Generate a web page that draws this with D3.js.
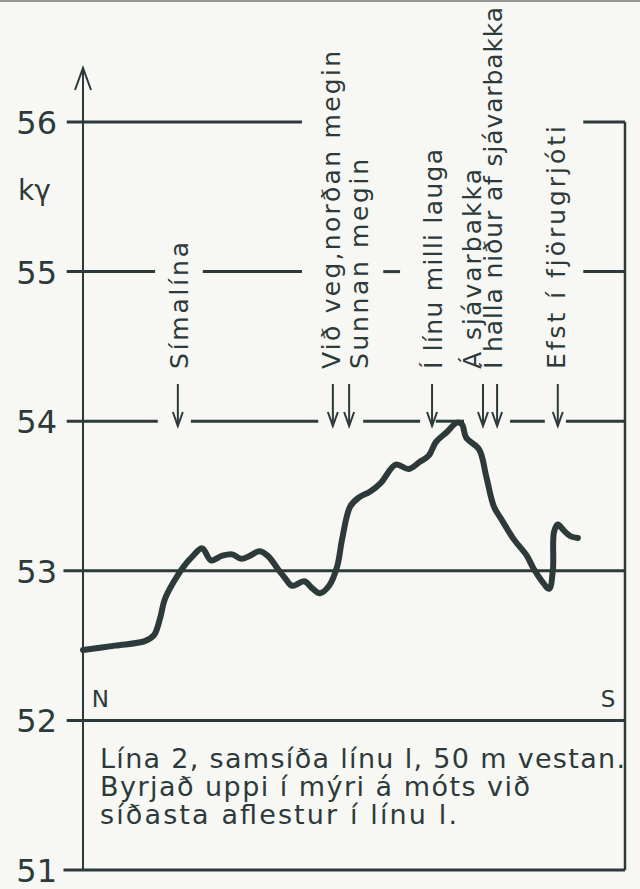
<!DOCTYPE html>
<html>
<head>
<meta charset="utf-8">
<script src="https://cdn.jsdelivr.net/npm/d3@7"></script>
<style>
  html, body { margin: 0; padding: 0; background: #f7f7f4; }
  svg { display: block; }
  text { fill: #2d3a3a; font-family: "DejaVu Sans", sans-serif; }
</style>
</head>
<body>
<svg id="chart" width="640" height="889"></svg>
<script>
// profile readings, station along line (0 = N end, 100 = S end), value in kγ
const stations = [0, 5.9, 11.4, 13.1, 14.2, 15.1, 16.8, 18.6, 20.3, 22.0, 23.6, 25.6, 27.5, 29.2, 30.8,
  32.5, 34.1, 36.0, 37.3, 38.6, 40.8, 42.4, 43.7, 45.4, 46.9, 47.8, 49.3, 50.9, 53.0, 55.0, 57.7,
  60.1, 62.2, 63.8, 65.1, 67.2, 69.0, 69.9, 70.7, 73.1, 74.4, 75.8, 77.1, 79.5, 81.9, 83.2, 84.7,
  86.0, 86.7, 86.9, 87.6, 88.7, 90.0, 91.3];
const values = [52.47, 52.50, 52.53, 52.57, 52.68, 52.81, 52.93, 53.03, 53.10, 53.15, 53.07, 53.10, 53.11, 53.08, 53.10,
  53.13, 53.10, 53.01, 52.95, 52.90, 52.93, 52.88, 52.85, 52.90, 53.03, 53.21, 53.43, 53.49, 53.53, 53.59, 53.71,
  53.68, 53.73, 53.77, 53.86, 53.93, 53.99, 53.98, 53.89, 53.81, 53.63, 53.43, 53.35, 53.21, 53.10, 53.01, 52.93,
  52.88, 53.01, 53.26, 53.31, 53.27, 53.23, 53.22];

const markerLabels = ["Símalína", "Við veg,norðan megin", "Sunnan megin", "Í línu milli lauga",
  "Á sjávarbakka", "Í halla niður af sjávarbakka", "Efst í fjörugrjóti"];
const markerStations = [17.5, 46.1, 49.1, 64.4, 73.8, 76.4, 87.6];

const yTicks = [51, 52, 53, 54, 55, 56];
const unitLabel = "kγ";
const endLabels = ["N", "S"];
const noteLines = ["Lína 2, samsíða línu l, 50 m vestan.",
  "Byrjað uppi í mýri á móts við",
  "síðasta aflestur í línu l."];

// hand-lettering layout: baseline shift from arrow and run length of each label
const labelDx = [10, 7, 19, 10, -2, 5, 7];
const labelLen = [127, 318, 210, 220, 200, 362, 243];
const noteLen = [525, 430, 357];

const ink = "#2d3a3a";
const svg = d3.select("#chart");

const x = d3.scaleLinear().domain([0, 100]).range([83, 625]);
const y = d3.scaleLinear().domain([51, 56]).range([870, 122]);

// scan edge at the top
svg.append("line").attr("x1", 0).attr("x2", 640).attr("y1", 1).attr("y2", 1)
  .attr("stroke", "#555").attr("stroke-width", 2).attr("opacity", 0.6);

// gridlines are broken where labels cross them (station units)
const gridGaps = {
  56: [[40.4, 92.3]],
  55: [[13.3, 22.1], [40.4, 55.4], [58.5, 92.3]],
  54: [[13.8, 19.9], [43.4, 51.7], [62.2, 65.1], [70.3, 78.8], [85.2, 89.1]]
};
const segs = [];
yTicks.forEach(v => {
  let from = v === 53 || v === 51 ? -3.6 : -3;
  (gridGaps[v] || []).forEach(g => { segs.push({ v, a: from, b: g[0] }); from = g[1]; });
  segs.push({ v, a: from, b: 100 });
});
svg.append("g").selectAll("line").data(segs).join("line")
  .attr("x1", d => x(d.a)).attr("x2", d => x(d.b))
  .attr("y1", d => y(d.v)).attr("y2", d => y(d.v))
  .attr("stroke", ink).attr("stroke-width", 3);

// right frame
svg.append("line").attr("x1", x(100)).attr("x2", x(100))
  .attr("y1", y(56)).attr("y2", y(51)).attr("stroke", ink).attr("stroke-width", 2.5);

// y axis with arrow
svg.append("line").attr("x1", x(0)).attr("x2", x(0))
  .attr("y1", y(51)).attr("y2", 68).attr("stroke", ink).attr("stroke-width", 2);
svg.append("path").attr("d", `M${x(0) - 8},90 L${x(0)},68 L${x(0) + 8},90`)
  .attr("fill", "none").attr("stroke", ink).attr("stroke-width", 2);

const yAxis = svg.append("g").attr("transform", `translate(${x(0)},0)`)
  .call(d3.axisLeft(y).tickValues(yTicks).tickSize(0).tickPadding(26).tickFormat(d3.format("d")));
yAxis.select(".domain").remove();
yAxis.selectAll("text").attr("font-size", 32).attr("fill", ink)
  .attr("font-family", "DejaVu Sans, sans-serif").attr("dy", "0.36em");

svg.append("text").attr("x", 18).attr("y", 200).attr("font-size", 28).text(unitLabel);

// N / S
svg.append("text").attr("x", x(1.6)).attr("y", 707).attr("font-size", 23).text(endLabels[0]);
svg.append("text").attr("x", x(98.2)).attr("y", 707).attr("font-size", 23)
  .attr("text-anchor", "end").text(endLabels[1]);

// markers: arrows and rotated labels
const mk = svg.append("g").selectAll("g").data(markerStations).join("g")
  .attr("transform", d => `translate(${x(d)},0)`);
mk.append("line").attr("y1", 384).attr("y2", 426).attr("stroke", ink).attr("stroke-width", 2);
mk.append("path").attr("d", "M-5,412 L0,426 L5,412").attr("fill", "none")
  .attr("stroke", ink).attr("stroke-width", 2);
mk.append("text").attr("transform", (d, i) => `translate(${labelDx[i]},369) rotate(-90)`)
  .attr("font-size", 25)
  .attr("textLength", (d, i) => labelLen[i]).attr("lengthAdjust", "spacing")
  .text((d, i) => markerLabels[i]);

// profile curve
const line = d3.line().x(d => x(d[0])).y(d => y(d[1])).curve(d3.curveCatmullRom);
svg.append("path").datum(stations.map((s, i) => [s, values[i]]))
  .attr("d", line).attr("fill", "none").attr("stroke", ink)
  .attr("stroke-width", 6).attr("stroke-linejoin", "round").attr("stroke-linecap", "round");

// note
svg.append("g").selectAll("text").data(noteLines).join("text")
  .attr("x", 100).attr("y", (d, i) => 768 + i * 28)
  .attr("font-size", 27)
  .attr("textLength", (d, i) => noteLen[i]).attr("lengthAdjust", "spacing")
  .text(d => d);
</script>
</body>
</html>
